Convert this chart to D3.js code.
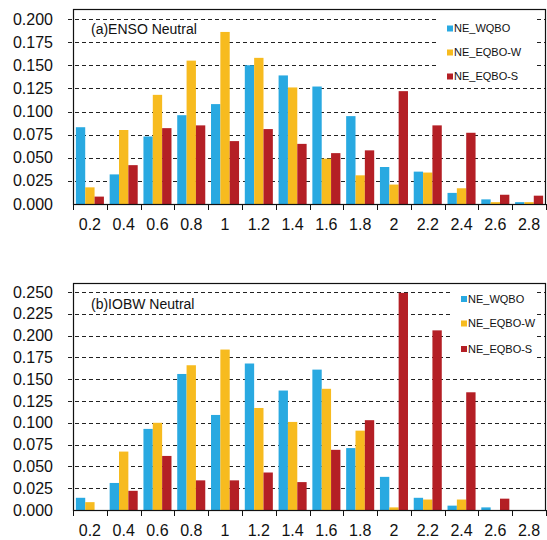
<!DOCTYPE html>
<html>
<head>
<meta charset="utf-8">
<script src="https://cdn.jsdelivr.net/npm/d3@7"></script>
<style>
  body { margin: 0; background: #fff; }
  svg { display: block; font-family: "Liberation Sans", Arial, sans-serif; }
</style>
</head>
<body>
<script>
// bar chart data
var categories = ["0.2", "0.4", "0.6", "0.8", "1", "1.2", "1.4", "1.6", "1.8", "2", "2.2", "2.4", "2.6", "2.8"];
var seriesNames = ["NE_WQBO", "NE_EQBO-W", "NE_EQBO-S"];

var ensoWQBO  = [0.083, 0.032, 0.073, 0.096, 0.108, 0.150, 0.139, 0.127, 0.095, 0.040, 0.035, 0.012, 0.005, 0.002];
var ensoEQBOW = [0.018, 0.080, 0.118, 0.155, 0.186, 0.158, 0.126, 0.049, 0.031, 0.021, 0.034, 0.017, 0.002, 0.002];
var ensoEQBOS = [0.008, 0.042, 0.082, 0.085, 0.068, 0.081, 0.065, 0.055, 0.058, 0.122, 0.085, 0.077, 0.010, 0.009];

var iobwWQBO  = [0.014, 0.031, 0.093, 0.156, 0.109, 0.168, 0.137, 0.161, 0.071, 0.038, 0.014, 0.005, 0.003, 0.000];
var iobwEQBOW = [0.009, 0.067, 0.100, 0.166, 0.184, 0.117, 0.101, 0.139, 0.091, 0.003, 0.012, 0.012, 0.000, 0.000];
var iobwEQBOS = [0.000, 0.022, 0.062, 0.034, 0.034, 0.043, 0.032, 0.069, 0.103, 0.249, 0.206, 0.135, 0.013, 0.000];

var ensoTicks = [0, 0.025, 0.05, 0.075, 0.1, 0.125, 0.15, 0.175, 0.2];
var iobwTicks = [0, 0.025, 0.05, 0.075, 0.1, 0.125, 0.15, 0.175, 0.2, 0.225, 0.25];

var colors = ["#29a9e1", "#f7bb1f", "#b41f25"];

var svg = d3.select("body").append("svg")
    .attr("width", 547)
    .attr("height", 540);

function drawPanel(opt) {
    var left = 73, right = 546;

    var x0 = d3.scaleBand()
        .domain(categories)
        .range([left, right])
        .paddingInner(0.17)
        .paddingOuter(0.085);

    var x1 = d3.scaleBand()
        .domain(seriesNames)
        .range([0, x0.bandwidth()]);

    var y = d3.scaleLinear()
        .domain([0, opt.max])
        .range([opt.zeroY, opt.maxY]);

    var g = svg.append("g");

    // dashed gridlines + outward ticks
    g.selectAll(".grid")
        .data(opt.ticks.filter(function(d) { return d > 0; }))
        .enter().append("line")
        .attr("class", "grid")
        .attr("x1", left - 5)
        .attr("x2", right)
        .attr("y1", function(d) { return Math.round(y(d)) + 0.5; })
        .attr("y2", function(d) { return Math.round(y(d)) + 0.5; })
        .attr("stroke", "#222")
        .attr("stroke-width", 1)
        .attr("stroke-dasharray", "4,3");

    // legend box hides the grid behind it
    g.append("rect")
        .attr("x", opt.legendX)
        .attr("y", opt.frameTop)
        .attr("width", right - opt.legendX - 12)
        .attr("height", opt.legendH)
        .attr("fill", "#fff");

    // bars
    var data = categories.map(function(c, i) {
        return { cat: c, vals: opt.series.map(function(s) { return s[i]; }) };
    });

    var groups = g.selectAll(".grp")
        .data(data)
        .enter().append("g")
        .attr("class", "grp")
        .attr("transform", function(d) { return "translate(" + x0(d.cat) + ",0)"; });

    groups.selectAll("rect")
        .data(function(d) {
            return d.vals.map(function(v, k) { return { name: seriesNames[k], v: v, k: k }; });
        })
        .enter().append("rect")
        .attr("x", function(d) { return x1(d.name); })
        .attr("width", x1.bandwidth())
        .attr("y", function(d) { return y(d.v); })
        .attr("height", function(d) { return y(0) - y(d.v); })
        .attr("fill", function(d) { return colors[d.k]; });

    // frame: top, right, left and bottom axis
    g.append("rect")
        .attr("x", left + 0.5)
        .attr("y", opt.frameTop + 0.5)
        .attr("width", right - left - 1)
        .attr("height", Math.round(y(0)) - opt.frameTop)
        .attr("fill", "none")
        .attr("stroke", "#111")
        .attr("stroke-width", 1.2);

    // y tick labels
    g.selectAll(".ylab")
        .data(opt.ticks)
        .enter().append("text")
        .attr("x", 53)
        .attr("y", function(d) { return y(d); })
        .attr("dy", "0.35em")
        .attr("text-anchor", "end")
        .attr("font-size", 16)
        .attr("fill", "#111")
        .text(function(d) { return d3.format(".3f")(d); });

    // x ticks at category boundaries
    var bounds = d3.range(categories.length + 1).map(function(i) {
        return left + i * x0.step();
    });
    g.selectAll(".xtick")
        .data(bounds)
        .enter().append("line")
        .attr("x1", function(d) { return Math.round(d) + 0.5; })
        .attr("x2", function(d) { return Math.round(d) + 0.5; })
        .attr("y1", y(0))
        .attr("y2", y(0) + 6)
        .attr("stroke", "#111")
        .attr("stroke-width", 1);

    g.selectAll(".xlab")
        .data(categories)
        .enter().append("text")
        .attr("x", function(d) { return x0(d) + x0.bandwidth() / 2; })
        .attr("y", opt.xLabelY)
        .attr("text-anchor", "middle")
        .attr("font-size", 16)
        .attr("fill", "#111")
        .text(function(d) { return d; });

    // panel title
    g.append("text")
        .attr("x", 91)
        .attr("y", opt.titleY)
        .attr("dy", "0.35em")
        .attr("font-size", 14)
        .attr("fill", "#111")
        .text(opt.title);

    // legend
    var leg = g.selectAll(".leg")
        .data(seriesNames)
        .enter().append("g")
        .attr("transform", function(d, i) {
            return "translate(" + opt.legSwatchX + "," + opt.legY[i] + ")";
        });

    leg.append("rect")
        .attr("x", 0)
        .attr("y", -3)
        .attr("width", 6)
        .attr("height", 6)
        .attr("fill", function(d, i) { return colors[i]; });

    leg.append("text")
        .attr("x", 7)
        .attr("dy", "0.35em")
        .attr("font-size", 11)
        .attr("fill", "#111")
        .text(function(d) { return d; });
}

drawPanel({
    series: [ensoWQBO, ensoEQBOW, ensoEQBOS],
    ticks: ensoTicks,
    max: 0.2,
    zeroY: 204,
    maxY: 19,
    frameTop: 9,
    xLabelY: 230,
    title: "(a)ENSO Neutral",
    titleY: 29,
    legendX: 438,
    legendH: 76,
    legSwatchX: 447,
    legY: [28.5, 52.5, 76.5]
});

drawPanel({
    series: [iobwWQBO, iobwEQBOW, iobwEQBOS],
    ticks: iobwTicks,
    max: 0.25,
    zeroY: 510,
    maxY: 292,
    frameTop: 283,
    xLabelY: 536,
    title: "(b)IOBW Neutral",
    titleY: 304,
    legendX: 450,
    legendH: 86,
    legSwatchX: 461,
    legY: [299, 323.5, 349]
});
</script>
</body>
</html>
